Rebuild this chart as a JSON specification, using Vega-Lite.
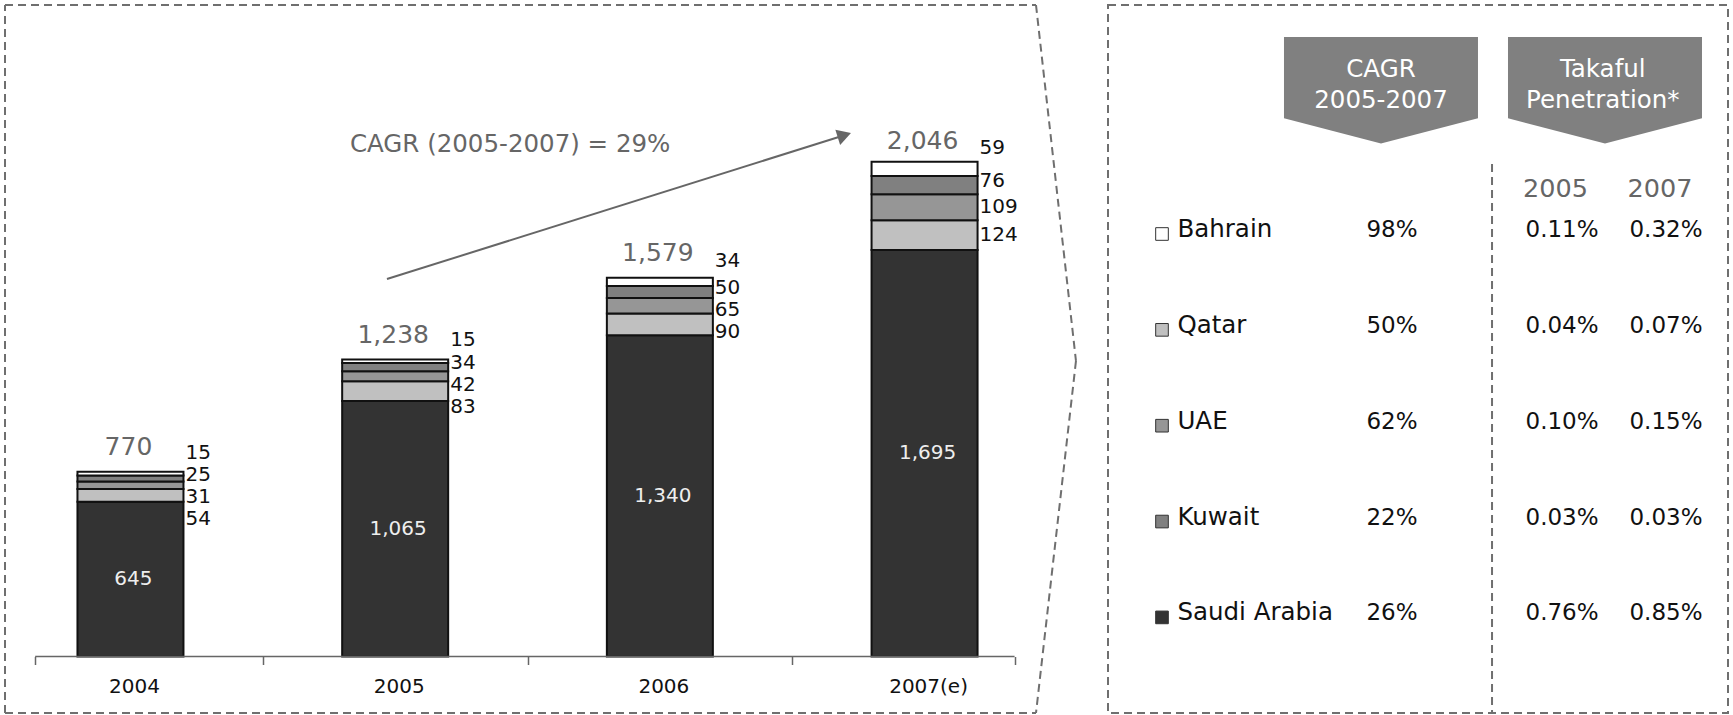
{
  "$schema": "https://vega.github.io/schema/vega-lite/v6.json",
  "padding": {"left": 4, "top": 4, "right": 0, "bottom": 0},
  "bounds": "flush",
  "spacing": 72,
  "config": {"view": {"stroke": null}, "font": "DejaVu Sans"},
  "hconcat": [
    {
      "width": 1031,
      "height": 651.5,
      "data": {
        "values": [
          {"year": 2004, "country": "Saudi Arabia", "value": 645},
          {"year": 2004, "country": "Qatar", "value": 54},
          {"year": 2004, "country": "UAE", "value": 31},
          {"year": 2004, "country": "Kuwait", "value": 25},
          {"year": 2004, "country": "Bahrain", "value": 15},
          {"year": 2005, "country": "Saudi Arabia", "value": 1065},
          {"year": 2005, "country": "Qatar", "value": 83},
          {"year": 2005, "country": "UAE", "value": 42},
          {"year": 2005, "country": "Kuwait", "value": 34},
          {"year": 2005, "country": "Bahrain", "value": 15},
          {"year": 2006, "country": "Saudi Arabia", "value": 1340},
          {"year": 2006, "country": "Qatar", "value": 90},
          {"year": 2006, "country": "UAE", "value": 65},
          {"year": 2006, "country": "Kuwait", "value": 50},
          {"year": 2006, "country": "Bahrain", "value": 34},
          {"year": 2007, "country": "Saudi Arabia", "value": 1695},
          {"year": 2007, "country": "Qatar", "value": 124},
          {"year": 2007, "country": "UAE", "value": 109},
          {"year": 2007, "country": "Kuwait", "value": 76},
          {"year": 2007, "country": "Bahrain", "value": 59}
        ]
      },
      "transform": [
        {"stack": "value", "groupby": ["year"], "sort": [{"field": "value", "order": "descending"}], "as": ["v0", "v1"]},
        {"calculate": "(datum.v0 + datum.v1) / 2", "as": "mid"}
      ],
      "layer": [
        {
          "mark": {"type": "bar", "width": 106, "stroke": "#111111", "strokeWidth": 2, "opacity": 1},
          "encoding": {
            "x": {
              "field": "year", "type": "quantitative",
              "scale": {"domain": [2003.526, 2007.421], "nice": false, "zero": false, "padding": 0},
              "axis": {"values": [2003.64, 2004.5, 2005.5, 2006.5, 2007.34], "labels": false, "domain": false, "grid": false, "title": null, "tickSize": 8, "tickWidth": 1.5, "tickColor": "#666666"}
            },
            "y": {"field": "v0", "type": "quantitative", "scale": {"domain": [0, 2716.9], "nice": false, "zero": false, "padding": 0}, "axis": null},
            "y2": {"field": "v1"},
            "color": {
              "field": "country", "type": "nominal",
              "scale": {"domain": ["Saudi Arabia", "Qatar", "UAE", "Kuwait", "Bahrain"], "range": ["#333333", "#c0c0c0", "#969696", "#808080", "#ffffff"]},
              "legend": null
            }
          }
        },
        {
          "transform": [{"filter": "datum.country === 'Saudi Arabia'"}],
          "mark": {"type": "text", "fontSize": 20, "color": "#eeeeee", "align": "center", "baseline": "middle", "dx": 3},
          "encoding": {
            "x": {"field": "year", "type": "quantitative", "axis": {"values": [2003.64, 2004.5, 2005.5, 2006.5, 2007.34], "labels": false, "domain": false, "grid": false, "title": null, "tickSize": 8, "tickWidth": 1.5, "tickColor": "#666666"}},
            "y": {"field": "mid", "type": "quantitative", "axis": null},
            "text": {"field": "value", "type": "quantitative", "format": ","}
          }
        },
        {
          "transform": [
            {"filter": "datum.country !== 'Saudi Arabia'"},
            {"window": [{"op": "row_number", "as": "rank"}], "groupby": ["year"], "sort": [{"field": "value", "order": "ascending"}]},
            {"calculate": "datum.mid + (datum.country === 'Bahrain' ? 87.6 : (datum.country === 'Kuwait' ? 16.7 : 0)) + datum.rank * 91.7", "as": "reach"},
            {"window": [{"op": "min", "field": "reach", "as": "reachMin"}], "groupby": ["year"], "sort": [{"field": "rank", "order": "ascending"}], "frame": [null, 0]},
            {"calculate": "datum.reachMin - datum.rank * 91.7", "as": "labelAt"}
          ],
          "mark": {"type": "text", "fontSize": 20, "color": "#111111", "align": "left", "baseline": "middle", "dx": 55},
          "encoding": {
            "x": {"field": "year", "type": "quantitative", "axis": {"values": [2003.64, 2004.5, 2005.5, 2006.5, 2007.34], "labels": false, "domain": false, "grid": false, "title": null, "tickSize": 8, "tickWidth": 1.5, "tickColor": "#666666"}},
            "y": {"field": "labelAt", "type": "quantitative", "axis": null},
            "text": {"field": "value", "type": "quantitative", "format": ","}
          }
        },
        {
          "data": {
            "values": [
              {"year": 2004, "period": "2004", "total": 770},
              {"year": 2005, "period": "2005", "total": 1238},
              {"year": 2006, "period": "2006", "total": 1579},
              {"year": 2007, "period": "2007(e)", "total": 2046}
            ]
          },
          "layer": [
            {
              "mark": {"type": "text", "fontSize": 25, "color": "#666666", "align": "center", "baseline": "middle", "dx": -2, "dy": -25},
              "encoding": {
                "x": {"field": "year", "type": "quantitative", "axis": {"values": [2003.64, 2004.5, 2005.5, 2006.5, 2007.34], "labels": false, "domain": false, "grid": false, "title": null, "tickSize": 8, "tickWidth": 1.5, "tickColor": "#666666"}},
                "y": {"field": "total", "type": "quantitative", "axis": null},
                "text": {"field": "total", "type": "quantitative", "format": ","}
              }
            },
            {
              "mark": {"type": "text", "fontSize": 20, "color": "#111111", "align": "center", "baseline": "middle", "dx": 4, "dy": 30},
              "encoding": {
                "x": {"field": "year", "type": "quantitative", "axis": {"values": [2003.64, 2004.5, 2005.5, 2006.5, 2007.34], "labels": false, "domain": false, "grid": false, "title": null, "tickSize": 8, "tickWidth": 1.5, "tickColor": "#666666"}},
                "y": {"datum": 0, "type": "quantitative", "axis": null},
                "text": {"field": "period"}
              }
            }
          ]
        },
        {
          "data": {"values": [{}]},
          "mark": {"type": "rule", "stroke": "#666666", "strokeWidth": 1.5},
          "encoding": {
            "x": {"datum": 2003.64, "type": "quantitative", "axis": {"values": [2003.64, 2004.5, 2005.5, 2006.5, 2007.34], "labels": false, "domain": false, "grid": false, "title": null, "tickSize": 8, "tickWidth": 1.5, "tickColor": "#666666"}},
            "x2": {"datum": 2007.34},
            "y": {"datum": 0, "type": "quantitative", "axis": null}
          }
        },
        {
          "data": {"values": [{}]},
          "mark": {"type": "rule", "stroke": "#666666", "strokeWidth": 2},
          "encoding": {
            "x": {"datum": 2004.969, "type": "quantitative", "axis": {"values": [2003.64, 2004.5, 2005.5, 2006.5, 2007.34], "labels": false, "domain": false, "grid": false, "title": null, "tickSize": 8, "tickWidth": 1.5, "tickColor": "#666666"}},
            "x2": {"datum": 2006.697},
            "y": {"datum": 1574, "type": "quantitative", "axis": null},
            "y2": {"datum": 2174}
          }
        },
        {
          "data": {"values": [{}]},
          "mark": {"type": "point", "shape": "triangle-up", "size": 256, "angle": 72.5, "filled": true, "color": "#666666", "opacity": 1},
          "encoding": {
            "x": {"datum": 2006.697, "type": "quantitative", "axis": {"values": [2003.64, 2004.5, 2005.5, 2006.5, 2007.34], "labels": false, "domain": false, "grid": false, "title": null, "tickSize": 8, "tickWidth": 1.5, "tickColor": "#666666"}},
            "y": {"datum": 2174, "type": "quantitative", "axis": null}
          }
        },
        {
          "data": {"values": [{}]},
          "mark": {"type": "text", "fontSize": 24.5, "color": "#666666", "align": "left", "baseline": "middle"},
          "encoding": {
            "x": {"datum": 2004.829, "type": "quantitative", "axis": {"values": [2003.64, 2004.5, 2005.5, 2006.5, 2007.34], "labels": false, "domain": false, "grid": false, "title": null, "tickSize": 8, "tickWidth": 1.5, "tickColor": "#666666"}},
            "y": {"datum": 2133, "type": "quantitative", "axis": null},
            "text": {"value": "CAGR (2005-2007) = 29%"}
          }
        },
        {
          "data": {"values": [{}]},
          "mark": {"type": "rule", "stroke": "#6f6f6f", "strokeWidth": 2, "strokeDash": [8, 5]},
          "encoding": {
            "x": {"datum": 2003.526, "type": "quantitative", "axis": {"values": [2003.64, 2004.5, 2005.5, 2006.5, 2007.34], "labels": false, "domain": false, "grid": false, "title": null, "tickSize": 8, "tickWidth": 1.5, "tickColor": "#666666"}},
            "y": {"datum": -235.6, "type": "quantitative", "axis": null},
            "y2": {"datum": 2716.9}
          }
        },
        {
          "data": {"values": [{}]},
          "mark": {"type": "rule", "stroke": "#6f6f6f", "strokeWidth": 2, "strokeDash": [8, 5]},
          "encoding": {
            "x": {"datum": 2003.526, "type": "quantitative", "axis": {"values": [2003.64, 2004.5, 2005.5, 2006.5, 2007.34], "labels": false, "domain": false, "grid": false, "title": null, "tickSize": 8, "tickWidth": 1.5, "tickColor": "#666666"}},
            "x2": {"datum": 2007.421},
            "y": {"datum": 2716.9, "type": "quantitative", "axis": null}
          }
        },
        {
          "data": {"values": [{}]},
          "mark": {"type": "rule", "stroke": "#6f6f6f", "strokeWidth": 2, "strokeDash": [8, 5]},
          "encoding": {
            "x": {"datum": 2003.526, "type": "quantitative", "axis": {"values": [2003.64, 2004.5, 2005.5, 2006.5, 2007.34], "labels": false, "domain": false, "grid": false, "title": null, "tickSize": 8, "tickWidth": 1.5, "tickColor": "#666666"}},
            "x2": {"datum": 2007.421},
            "y": {"datum": -235.6, "type": "quantitative", "axis": null}
          }
        },
        {
          "data": {"values": [{}]},
          "mark": {"type": "rule", "stroke": "#6f6f6f", "strokeWidth": 2, "strokeDash": [8, 5]},
          "encoding": {
            "x": {"datum": 2007.421, "type": "quantitative", "axis": {"values": [2003.64, 2004.5, 2005.5, 2006.5, 2007.34], "labels": false, "domain": false, "grid": false, "title": null, "tickSize": 8, "tickWidth": 1.5, "tickColor": "#666666"}},
            "x2": {"datum": 2007.572},
            "y": {"datum": 2716.9, "type": "quantitative", "axis": null},
            "y2": {"datum": 1232.4}
          }
        },
        {
          "data": {"values": [{}]},
          "mark": {"type": "rule", "stroke": "#6f6f6f", "strokeWidth": 2, "strokeDash": [8, 5]},
          "encoding": {
            "x": {"datum": 2007.572, "type": "quantitative", "axis": {"values": [2003.64, 2004.5, 2005.5, 2006.5, 2007.34], "labels": false, "domain": false, "grid": false, "title": null, "tickSize": 8, "tickWidth": 1.5, "tickColor": "#666666"}},
            "x2": {"datum": 2007.421},
            "y": {"datum": 1232.4, "type": "quantitative", "axis": null},
            "y2": {"datum": -235.6}
          }
        }
      ]
    },
    {
      "width": 620,
      "height": 708,
      "view": {"stroke": "#6f6f6f", "strokeWidth": 2, "strokeDash": [8, 5]},
      "resolve": {"scale": {"x": "independent", "y": "independent"}},
      "layer": [
        {
          "data": {"values": [{}]},
          "layer": [
            {
              "mark": {"type": "point", "shape": "M-1,-0.549L1,-0.549L1,0.289L0,0.549L-1,0.289Z", "size": 37636, "filled": true, "color": "#808080", "opacity": 1},
              "encoding": {
                "x": {"datum": 0.4403, "type": "quantitative", "scale": {"domain": [0, 1], "nice": false, "zero": false}, "axis": null},
                "y": {"datum": 0.8796, "type": "quantitative", "scale": {"domain": [0, 1], "nice": false, "zero": false}, "axis": null}
              }
            },
            {
              "mark": {"type": "point", "shape": "M-1,-0.549L1,-0.549L1,0.289L0,0.549L-1,0.289Z", "size": 37636, "filled": true, "color": "#808080", "opacity": 1},
              "encoding": {
                "x": {"datum": 0.8016, "type": "quantitative", "axis": null},
                "y": {"datum": 0.8796, "type": "quantitative", "axis": null}
              }
            },
            {
              "mark": {"type": "text", "fontSize": 24.5, "color": "#ffffff", "align": "center", "baseline": "middle", "lineHeight": 31},
              "encoding": {
                "x": {"datum": 0.4403, "type": "quantitative", "axis": null},
                "y": {"datum": 0.9082, "type": "quantitative", "axis": null},
                "text": {"value": ["CAGR", "2005-2007"]}
              }
            },
            {
              "mark": {"type": "text", "fontSize": 24.5, "color": "#ffffff", "align": "center", "baseline": "middle", "lineHeight": 31},
              "encoding": {
                "x": {"datum": 0.798, "type": "quantitative", "axis": null},
                "y": {"datum": 0.9082, "type": "quantitative", "axis": null},
                "text": {"value": ["Takaful", "Penetration*"]}
              }
            },
            {
              "mark": {"type": "text", "fontSize": 25.5, "color": "#666666", "align": "center", "baseline": "middle"},
              "encoding": {
                "x": {"datum": 0.7218, "type": "quantitative", "axis": null},
                "y": {"datum": 0.7401, "type": "quantitative", "axis": null},
                "text": {"value": "2005"}
              }
            },
            {
              "mark": {"type": "text", "fontSize": 25.5, "color": "#666666", "align": "center", "baseline": "middle"},
              "encoding": {
                "x": {"datum": 0.8903, "type": "quantitative", "axis": null},
                "y": {"datum": 0.7401, "type": "quantitative", "axis": null},
                "text": {"value": "2007"}
              }
            },
            {
              "mark": {"type": "rule", "stroke": "#6f6f6f", "strokeWidth": 2, "strokeDash": [8, 5]},
              "encoding": {
                "x": {"datum": 0.6194, "type": "quantitative", "axis": null},
                "y": {"datum": 0.7754, "type": "quantitative", "axis": null},
                "y2": {"datum": 0}
              }
            }
          ]
        },
        {
          "data": {
            "values": [
              {"country": "Bahrain", "cagr": 0.98, "pen2005": 0.0011, "pen2007": 0.0032},
              {"country": "Qatar", "cagr": 0.50, "pen2005": 0.0004, "pen2007": 0.0007},
              {"country": "UAE", "cagr": 0.62, "pen2005": 0.0010, "pen2007": 0.0015},
              {"country": "Kuwait", "cagr": 0.22, "pen2005": 0.0003, "pen2007": 0.0003},
              {"country": "Saudi Arabia", "cagr": 0.26, "pen2005": 0.0076, "pen2007": 0.0085}
            ]
          },
          "layer": [
            {
              "mark": {"type": "point", "shape": "square", "size": 160, "filled": true, "stroke": "#333333", "strokeWidth": 1, "opacity": 1},
              "encoding": {
                "x": {"datum": 0.0871, "type": "quantitative", "scale": {"domain": [0, 1], "nice": false, "zero": false}, "axis": null},
                "y": {
                  "field": "country", "type": "nominal", "sort": null,
                  "scale": {"type": "point", "domain": ["Bahrain", "Qatar", "UAE", "Kuwait", "Saudi Arabia"], "range": [225, 608.4], "padding": 0},
                  "axis": null
                },
                "yOffset": {"value": 4},
                "color": {
                  "field": "country", "type": "nominal",
                  "scale": {"domain": ["Saudi Arabia", "Qatar", "UAE", "Kuwait", "Bahrain"], "range": ["#333333", "#c0c0c0", "#969696", "#808080", "#ffffff"]},
                  "legend": null
                }
              }
            },
            {
              "mark": {"type": "text", "fontSize": 24.5, "color": "#111111", "align": "left", "baseline": "middle"},
              "encoding": {
                "x": {"datum": 0.112, "type": "quantitative", "axis": null},
                "y": {"field": "country", "type": "nominal", "sort": null, "axis": null},
                "text": {"field": "country"}
              }
            },
            {
              "mark": {"type": "text", "fontSize": 23, "color": "#111111", "align": "center", "baseline": "middle"},
              "encoding": {
                "x": {"datum": 0.458, "type": "quantitative", "axis": null},
                "y": {"field": "country", "type": "nominal", "sort": null, "axis": null},
                "text": {"field": "cagr", "type": "quantitative", "format": ".0%"}
              }
            },
            {
              "mark": {"type": "text", "fontSize": 23, "color": "#111111", "align": "center", "baseline": "middle"},
              "encoding": {
                "x": {"datum": 0.7323, "type": "quantitative", "axis": null},
                "y": {"field": "country", "type": "nominal", "sort": null, "axis": null},
                "text": {"field": "pen2005", "type": "quantitative", "format": ".2%"}
              }
            },
            {
              "mark": {"type": "text", "fontSize": 23, "color": "#111111", "align": "center", "baseline": "middle"},
              "encoding": {
                "x": {"datum": 0.9, "type": "quantitative", "axis": null},
                "y": {"field": "country", "type": "nominal", "sort": null, "axis": null},
                "text": {"field": "pen2007", "type": "quantitative", "format": ".2%"}
              }
            }
          ]
        }
      ]
    }
  ]
}
